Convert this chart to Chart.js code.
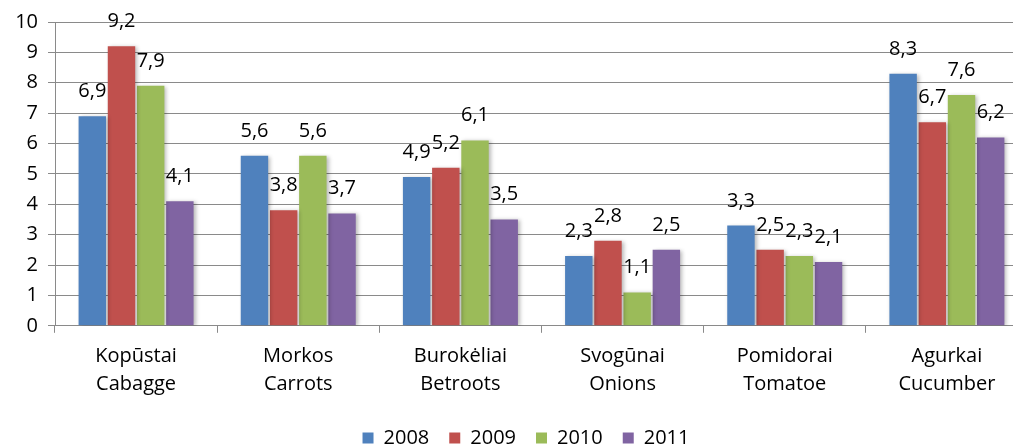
<!DOCTYPE html>
<html>
<head>
<meta charset="utf-8">
<script src="https://cdn.jsdelivr.net/npm/chart.js@4"></script>
<style>
    html, body { margin: 0; padding: 0; background: #fff; overflow: hidden; }
    #wrap { width: 1028px; height: 445px; }
</style>
</head>
<body>
<div id="wrap"><canvas id="myChart"></canvas></div>
<script>
const categories = [
    ["Kopūstai", "Cabagge"],
    ["Morkos", "Carrots"],
    ["Burokėliai", "Betroots"],
    ["Svogūnai", "Onions"],
    ["Pomidorai", "Tomatoe"],
    ["Agurkai", "Cucumber"]
];
const years = ["2008", "2009", "2010", "2011"];
const values2008 = [6.9, 5.6, 4.9, 2.3, 3.3, 8.3];
const values2009 = [9.2, 3.8, 5.2, 2.8, 2.5, 6.7];
const values2010 = [7.9, 5.6, 6.1, 1.1, 2.3, 7.6];
const values2011 = [4.1, 3.7, 3.5, 2.5, 2.1, 6.2];
const yTicks = [0, 1, 2, 3, 4, 5, 6, 7, 8, 9, 10];

const colors = ["#4F81BD", "#C0504D", "#9BBB59", "#8064A2"];
const series = [values2008, values2009, values2010, values2011];
const fontFamily = "'Open Sans', 'DejaVu Sans', sans-serif";

// soft drop shadow under the bars, like the office style
const barShadow = {
    id: 'barShadow',
    beforeDatasetsDraw(chart) {
        const ctx = chart.ctx;
        ctx.save();
        ctx.shadowColor = 'rgba(0,0,0,0.28)';
        ctx.shadowBlur = 4;
        ctx.shadowOffsetX = 2;
        ctx.shadowOffsetY = 1;
    },
    afterDatasetsDraw(chart) {
        chart.ctx.restore();
    }
};

// value labels above each bar, with decimal comma
const valueLabels = {
    id: 'valueLabels',
    afterDatasetsDraw(chart) {
        const ctx = chart.ctx;
        ctx.save();
        ctx.font = "20px " + fontFamily;
        ctx.fillStyle = '#000';
        ctx.textAlign = 'center';
        ctx.textBaseline = 'alphabetic';
        chart.data.datasets.forEach((ds, di) => {
            chart.getDatasetMeta(di).data.forEach((bar, i) => {
                const txt = ds.data[i].toFixed(1).replace('.', ',');
                ctx.fillText(txt, bar.x, bar.y - 19);
            });
        });
        ctx.restore();
    }
};

// nudge the legend a bit to the right, it is not centred under the plot
const legendShift = {
    id: 'legendShift',
    afterLayout(chart) {
        chart.legend.left += 12;
        chart.legend.right += 12;
    }
};

new Chart(document.getElementById("myChart"), {
    type: 'bar',
    data: {
        labels: categories,
        datasets: years.map((y, i) => ({
            label: y,
            data: series[i],
            backgroundColor: colors[i],
            borderWidth: 0,
            barPercentage: 0.94,
            categoryPercentage: 0.72
        }))
    },
    options: {
        responsive: true,
        maintainAspectRatio: false,
        animation: false,
        layout: { padding: { top: 14, right: 0, bottom: -13, left: 0 } },
        scales: {
            y: {
                min: 0,
                max: 10,
                afterBuildTicks: axis => { axis.ticks = yTicks.map(v => ({ value: v })); },
                afterFit: axis => { axis.width = 55; },
                ticks: {
                    color: '#000',
                    padding: 10,
                    font: { family: fontFamily, size: 20 }
                },
                grid: { color: '#8a8a8a', lineWidth: 1, tickLength: 7, drawTicks: true },
                border: { color: '#8a8a8a', width: 1 }
            },
            x: {
                ticks: {
                    color: '#000',
                    padding: 10,
                    font: { family: fontFamily, size: 20, lineHeight: 1.38 }
                },
                grid: { display: true, drawOnChartArea: false, offset: true, color: '#8a8a8a', tickLength: 7 },
                border: { color: '#8a8a8a', width: 1 }
            }
        },
        plugins: {
            legend: {
                position: 'bottom',
                labels: {
                    color: '#000',
                    boxWidth: 11,
                    boxHeight: 11,
                    padding: 20,
                    font: { family: fontFamily, size: 20 }
                }
            },
            tooltip: { enabled: false }
        }
    },
    plugins: [barShadow, valueLabels, legendShift]
});
</script>
</body>
</html>
